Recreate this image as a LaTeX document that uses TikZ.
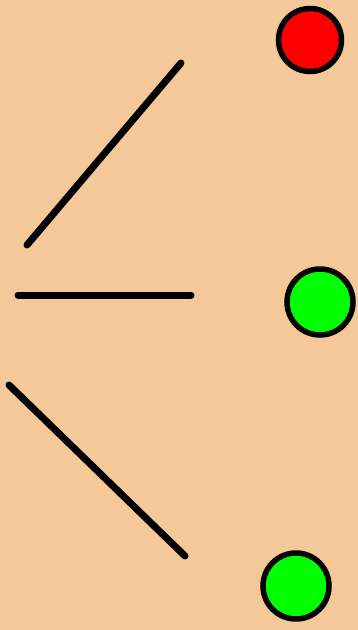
\documentclass[tikz,border=0pt]{standalone}
\definecolor{bg}{HTML}{F5C89A}
\definecolor{red1}{HTML}{FF0000}
\definecolor{green1}{HTML}{00FF00}
\tikzset{
  stroke/.style={line width=7pt, line cap=round, black},
  dot/.style={circle, draw=black, line width=5.5pt, minimum size=63pt, inner sep=0pt},
}
\begin{document}
\begin{tikzpicture}[x=1pt,y=-1pt]
\fill[bg] (0,0) rectangle (358,630);
\useasboundingbox (0,0) rectangle (358,630);
\node[dot, fill=red1] (r) at (310,40) {};
\node[dot, fill=green1, minimum size=66pt] (g1) at (320,302) {};
\node[dot, fill=green1, minimum size=66pt] (g2) at (296,586) {};
\coordinate (a1) at (27,245);
\coordinate (a2) at (181,63);
\coordinate (b1) at (18,295);
\coordinate (b2) at (191,295);
\coordinate (c1) at (9,385);
\coordinate (c2) at (185,556);
\draw[stroke] (a1) -- (a2);
\draw[stroke] (b1) -- (b2);
\draw[stroke] (c1) -- (c2);
\end{tikzpicture}
\end{document}
